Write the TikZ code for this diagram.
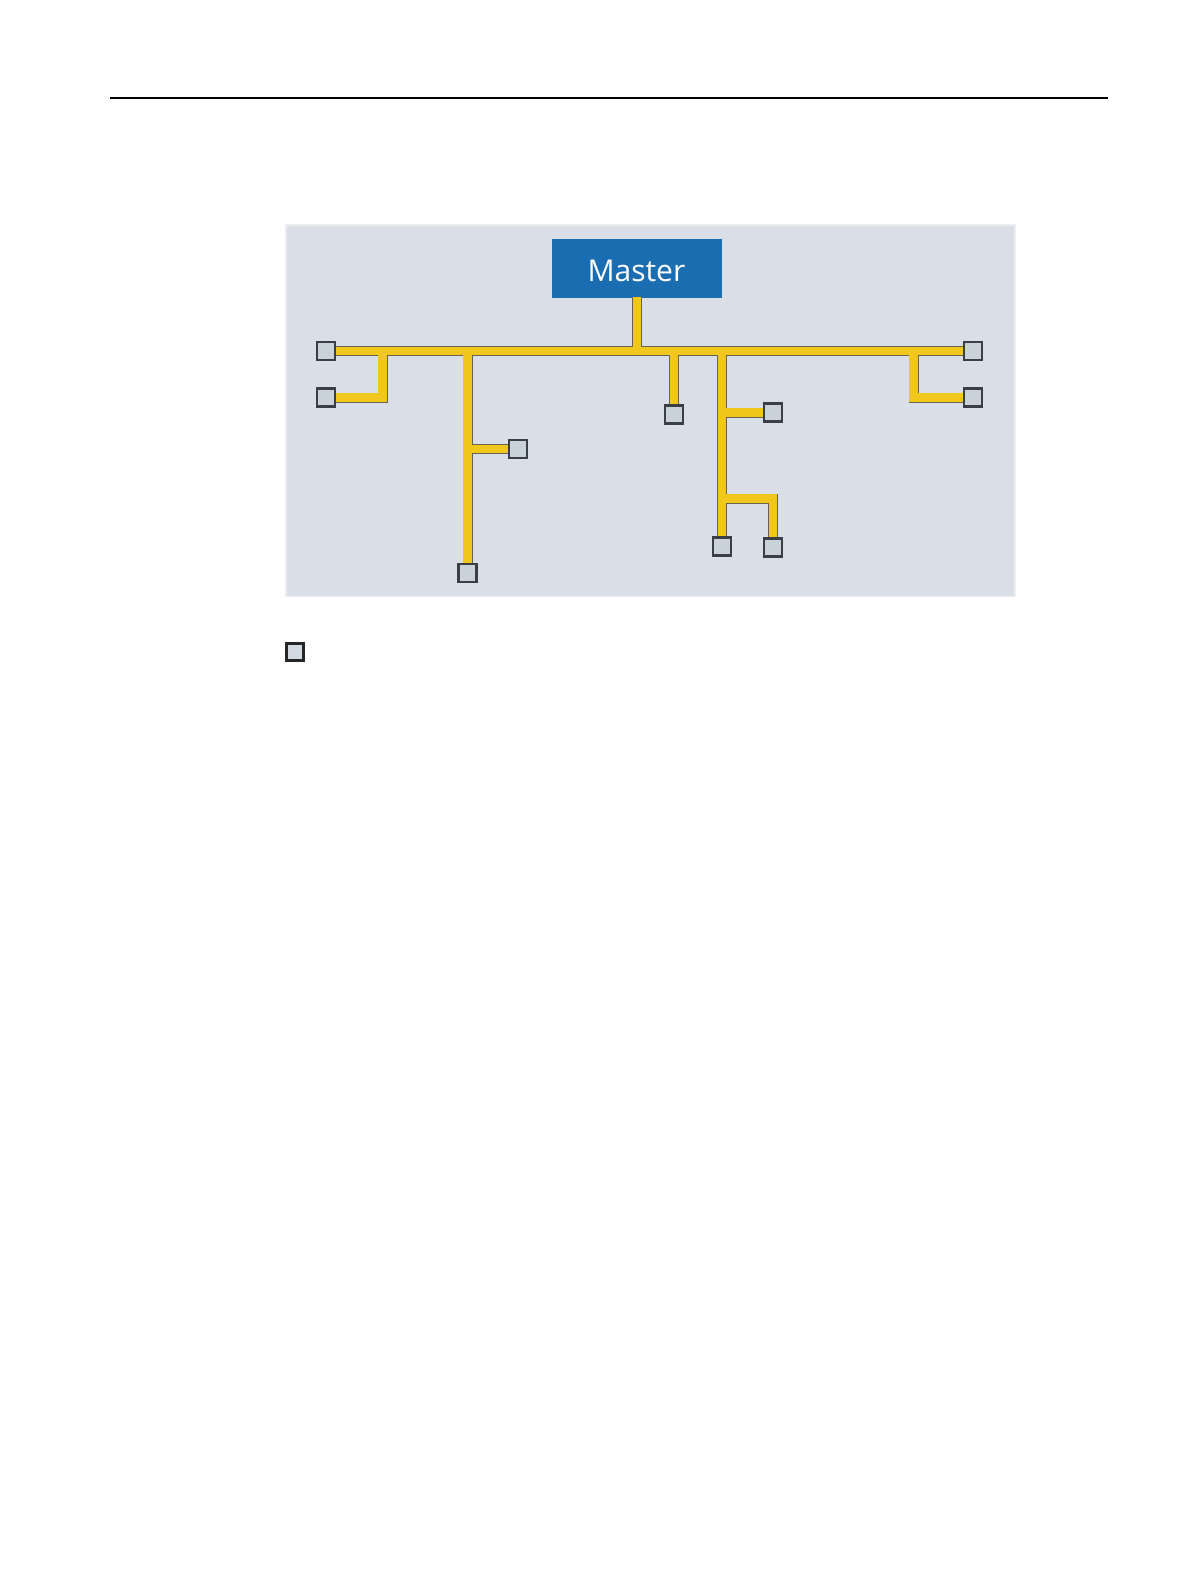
\documentclass[tikz,border=0pt]{standalone}
\usepackage{fontspec}
\newfontfamily\msfont{Open Sans}
\definecolor{panelfill}{HTML}{DADEE6}
\definecolor{panelborder}{HTML}{ECEEF2}
\definecolor{masterblue}{HTML}{1B6DB2}
\definecolor{busyellow}{HTML}{F2C71C}
\definecolor{busedge}{HTML}{66644F}
\definecolor{slavefill}{HTML}{C9D1D9}
\definecolor{slaveedge}{HTML}{3A3F46}
\tikzset{
  slavebox/.style={rectangle, draw=slaveedge, fill=slavefill, line width=2.2pt,
    minimum width=18pt, minimum height=18pt, inner sep=0pt},
  busout/.style={draw=busedge, line width=10pt, line join=miter},
  busin/.style={draw=busyellow, line width=8.2pt, line join=miter},
}
\begin{document}
\begin{tikzpicture}[x=1pt,y=-1pt]
\useasboundingbox (0,0) rectangle (1191,1587);
\fill[white] (0,0) rectangle (1191,1587);
% header rule
\coordinate (hl) at (110,98);
\coordinate (hr) at (1108,98);
\draw[line width=1.3pt, black] (hl) -- (hr);
% panel
\draw[fill=panelfill, draw=panelborder, line width=1.5pt] (286,225) rectangle (1015,596.5);
% master
\node[fill=masterblue, minimum width=170pt, minimum height=59pt, inner sep=0pt] (master) at (636.7,268.8) {};
\node[anchor=base, text=white, inner sep=0pt] (mtext) at (636.4,281.7) {\msfont\fontsize{30}{36}\selectfont Master};
% junction coordinates
\coordinate (mj) at (637,351);
\coordinate (j1) at (382.5,351);
\coordinate (j1c) at (382.5,397.5);
\coordinate (j2) at (467.5,351);
\coordinate (j2b) at (467.5,449);
\coordinate (j3) at (674,351);
\coordinate (j4) at (722,351);
\coordinate (j4b) at (722,412.5);
\coordinate (j4c) at (722,498.5);
\coordinate (j4d) at (773,498.5);
\coordinate (j5) at (913.5,351);
\coordinate (j5c) at (913.5,397.5);
% slave positions (coordinates for routing)
\coordinate (pA) at (326,351);
\coordinate (pB) at (326,397.5);
\coordinate (pC) at (467.5,573);
\coordinate (pD) at (518,449);
\coordinate (pE) at (674,414.5);
\coordinate (pF) at (773,412.5);
\coordinate (pG) at (722,546.5);
\coordinate (pH) at (773,547.5);
\coordinate (pI) at (973,351);
\coordinate (pJ) at (973,397.5);
\coordinate (mb) at (637,297);
% bus outlines, then yellow fill
\foreach \st in {busout,busin}{
  \path[\st] (pA) -- (pI);
  \path[\st] (mb) -- (mj);
  \path[\st] (j1) -- (j1c) -- (pB);
  \path[\st] (j2) -- (pC);
  \path[\st] (j2b) -- (pD);
  \path[\st] (j3) -- (pE);
  \path[\st] (j4) -- (pG);
  \path[\st] (j4b) -- (pF);
  \path[\st] (j4c) -- (j4d) -- (pH);
  \path[\st] (j5) -- (j5c) -- (pJ);
}
% slaves
\node[slavebox] (A) at (pA) {};
\node[slavebox] (B) at (pB) {};
\node[slavebox] (C) at (pC) {};
\node[slavebox] (D) at (pD) {};
\node[slavebox] (E) at (pE) {};
\node[slavebox] (F) at (pF) {};
\node[slavebox] (G) at (pG) {};
\node[slavebox] (H) at (pH) {};
\node[slavebox] (I) at (pI) {};
\node[slavebox] (J) at (pJ) {};
% legend square
\node[rectangle, draw=black!85, fill=slavefill!80!white, line width=3pt, minimum width=17pt, minimum height=17pt, inner sep=0pt] (legend) at (294.7,652) {};
\end{tikzpicture}
\end{document}
